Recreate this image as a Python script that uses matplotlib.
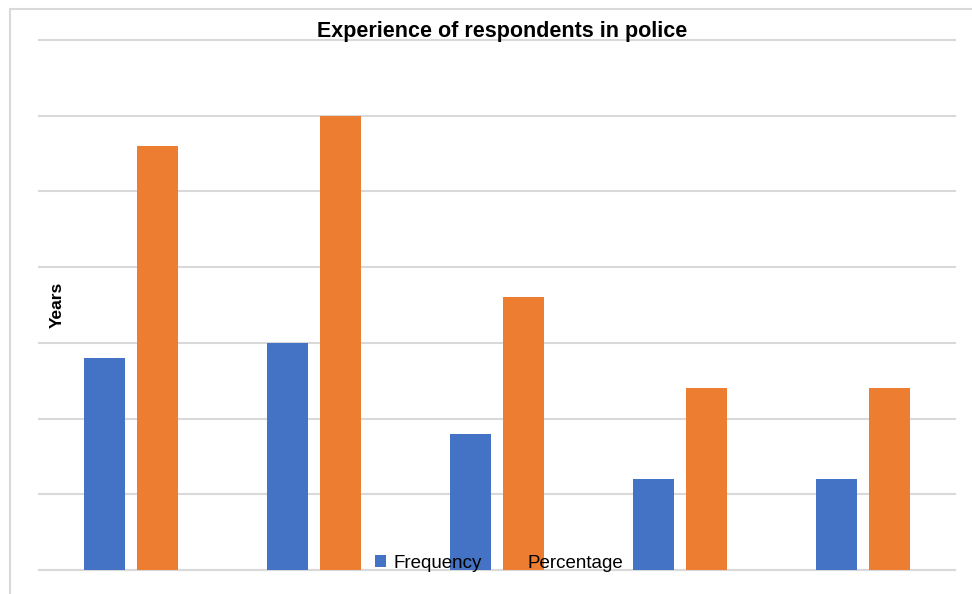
import matplotlib.pyplot as plt
import numpy as np
from matplotlib.patches import Rectangle

categories = ["1-5", "6-10", "11-15", "16-20", "21+"]
frequency = [14, 15, 9, 6, 6]
percentage = [28, 30, 18, 12, 12]

BLUE = "#4472C4"
ORANGE = "#ED7D31"
GRID = "#D9D9D9"

plt.rcParams["font.family"] = ["Liberation Sans", "DejaVu Sans"]

fig = plt.figure(figsize=(9.72, 5.94), dpi=100)
ax = fig.add_axes([39 / 972, 24 / 594, 916 / 972, 530 / 594])

# chart frame, cropped at the right and bottom
fig.patches.append(Rectangle((9.5 / 972, -0.1), 1.2, 1 - 9.5 / 594 + 0.1,
                             transform=fig.transFigure, fill=False,
                             edgecolor=GRID, linewidth=1.5, zorder=0))

x = np.arange(len(categories))
width = 0.224
offset = 0.1446
ax.bar(x - offset, frequency, width, color=BLUE, label="Frequency", zorder=3)
ax.bar(x + offset, percentage, width, color=ORANGE, label="Percentage", zorder=3)

ax.set_xlim(-0.5, len(categories) - 0.5)
ax.set_ylim(0, 35)
ax.set_yticks(np.arange(0, 36, 5))
ax.set_xticks([])
ax.tick_params(left=False, labelleft=False)
ax.grid(axis="y", color=GRID, linewidth=1.5, zorder=0)
for line in ax.get_ygridlines():
    line.set_clip_on(False)
ax.set_axisbelow(True)
for side in ["top", "right", "left"]:
    ax.spines[side].set_visible(False)
ax.spines["bottom"].set_color(GRID)
ax.spines["bottom"].set_linewidth(1.5)

fig.text(502 / 972, 1 - 32 / 594, "Experience of respondents in police",
         ha="center", va="center", fontsize=15.5, fontweight="bold")
fig.text(57 / 972, 1 - 305 / 594, "Years", rotation=90,
         ha="center", va="center", fontsize=12.5, fontweight="bold")

leg = ax.legend(loc="center", bbox_to_anchor=(499 / 972, 1 - 563 / 594),
                bbox_transform=fig.transFigure, ncol=2, frameon=False,
                fontsize=13.5, handlelength=0.6, handleheight=0.6,
                handletextpad=0.4, columnspacing=1.45, borderpad=0)
leg.set_zorder(4)

fig.savefig("out.png", dpi=100)
